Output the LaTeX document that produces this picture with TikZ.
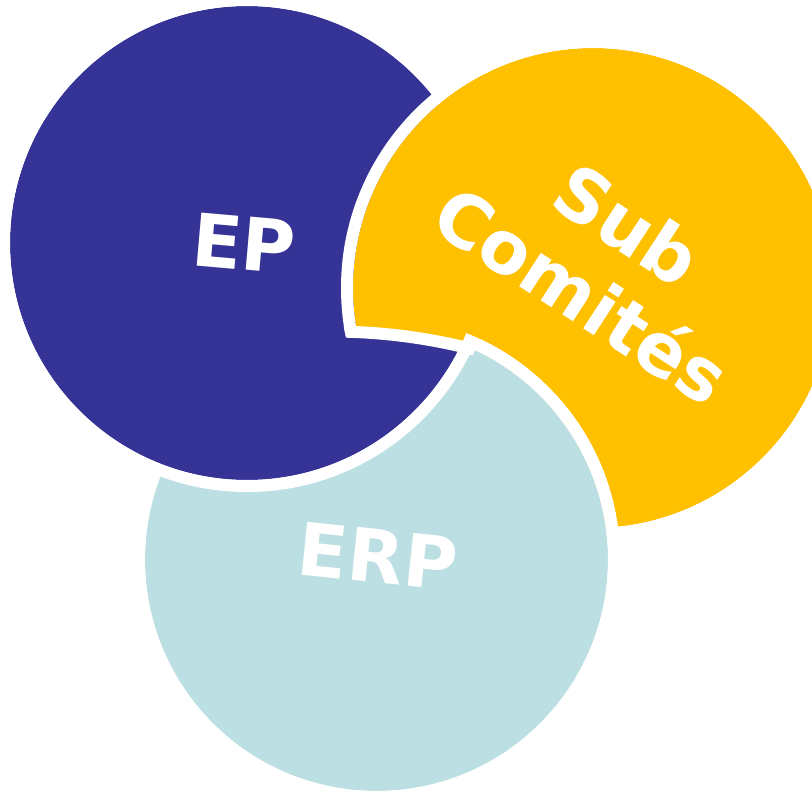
\documentclass[tikz,border=0pt]{standalone}
\usepackage{fontspec}
\newfontfamily\lblfont{DejaVu Sans}
\definecolor{epblue}{RGB}{53,51,150}
\definecolor{subyel}{RGB}{255,192,0}
\definecolor{erpblue}{RGB}{187,223,226}
\tikzset{
  ring/.style={draw=white,line width=12pt},
  lbl/.style={text=white,font=\lblfont\bfseries\fontsize{73}{84}\selectfont,inner sep=0pt,align=center}
}
\begin{document}
\begin{tikzpicture}[x=1pt,y=-1pt]
\useasboundingbox (0,0) rectangle (812,792);
\coordinate (epc) at (247,243);
\coordinate (yc) at (593,288);
\coordinate (erpc) at (376.5,559.5);
\coordinate (cutc) at (331,901.5);
% yellow (bottom layer)
\fill[subyel] (yc) circle[radius=240];
\draw[ring] (yc) circle[radius=246];
% ERP
\fill[erpblue] (erpc) circle[radius=231.5];
\draw[ring] (erpc) circle[radius=237.5];
% EP
\fill[epblue] (epc) circle[radius=237];
\draw[ring] (epc) circle[radius=243];
% yellow again over EP, above the cut arc
\begin{scope}
  \clip (epc) circle[radius=252];
  \begin{scope}[even odd rule]
    \clip (-20,-20) rectangle (840,1500) (cutc) circle[radius=570];
    \fill[subyel] (yc) circle[radius=240];
    \draw[ring] (yc) circle[radius=246];
  \end{scope}
  \clip (yc) circle[radius=252];
  \draw[ring] (cutc) circle[radius=570];
\end{scope}
% ERP ring restored over yellow, outside EP
\begin{scope}
  \clip (yc) circle[radius=252];
  \begin{scope}[even odd rule]
    \clip (-20,-20) rectangle (840,820) (epc) circle[radius=237];
    \draw[ring] (erpc) circle[radius=237.5];
  \end{scope}
\end{scope}
% labels
\node[lbl,rotate=-5] (ep) at (244,243) {EP};
\node[lbl,rotate=-6] (erp) at (378,556) {ERP};
\node[lbl,rotate=-33] (sub) at (605,260) {Sub\\Comités};
\end{tikzpicture}
\end{document}
